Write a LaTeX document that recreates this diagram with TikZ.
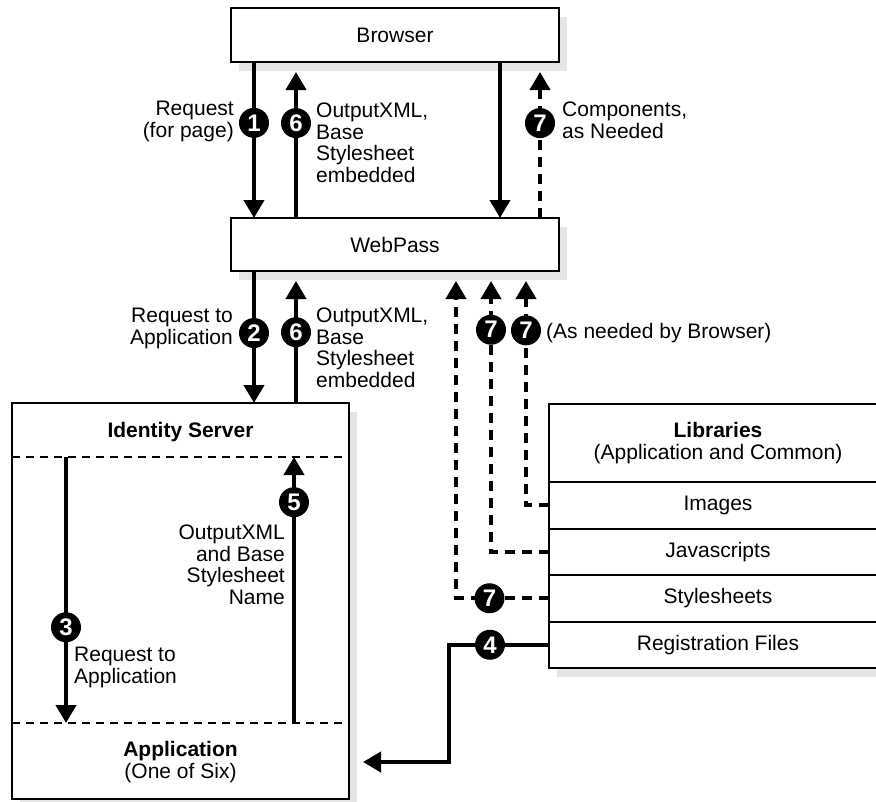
\documentclass[tikz,border=0pt]{standalone}
\usepackage{fontspec}
\setmainfont{Liberation Sans}
\usetikzlibrary{arrows.meta,positioning,shadows}

\begin{document}
\begin{tikzpicture}[x=1pt, y=-1pt,
	font=\fontsize{21}{21.5}\selectfont,
	box/.style={draw, line width=2pt, fill=white, outer sep=0pt, inner sep=0pt, align=center,
		drop shadow={shadow xshift=8pt, shadow yshift=-9pt, fill=black!10, opacity=1}},
	libbox/.style={box, minimum width=338pt, minimum height=46.5pt},
	flow/.style={line width=4pt, -{Triangle[width=20pt,length=18pt]}},
	fetch/.style={flow, dash pattern=on 10pt off 7pt},
	tier/.style={line width=1.5pt, dash pattern=on 8pt off 6pt},
	badge/.style={circle, fill=black, text=white, font=\fontsize{24}{24}\selectfont\bfseries, minimum size=30pt, inner sep=0pt},
	note/.style={inner sep=0pt}]
	\useasboundingbox (0,0) rectangle (876,801);
	\clip (0,0) rectangle (876,801);

	\node[box, minimum width=328pt, minimum height=54pt] (browser) at (395,35) {Browser};
	\node[box, minimum width=328pt, minimum height=53pt] (webpass) at (395,244.5) {WebPass};
	\node[box, minimum width=337pt, minimum height=396pt] (ids) at (180.5,601) {};
	\node[box, minimum width=338pt, minimum height=78pt, anchor=north west] (libs) at (549,404) {\textbf{Libraries}\\(Application and Common)};
	\node[libbox, below=0pt of libs] (img) {Images};
	\node[libbox, below=0pt of img] (js) {Javascripts};
	\node[libbox, below=0pt of js] (css) {Stylesheets};
	\node[libbox, below=0pt of css] (reg) {Registration Files};

	\coordinate (tierA) at ([yshift=-54pt]ids.north west);
	\coordinate (tierB) at ([yshift=76pt]ids.south west);
	\draw[tier] (tierA) -- (tierA -| ids.east);
	\draw[tier] (tierB) -- (tierB -| ids.east);
	\node (idstitle) at (180.5,432) {\textbf{Identity Server}};
	\node[align=center] (app) at (180.5,762) {\textbf{Application}\\(One of Six)};

	\draw[flow] ([xshift=23pt]browser.south west) -- node[badge,pos=.39] {1} ([xshift=23pt]webpass.north west);
	\draw[flow] ([xshift=65pt]webpass.north west) -- node[badge,pos=.65] {6} ([xshift=65pt,yshift=-10pt]browser.south west);
	\draw[flow] ([xshift=269pt]browser.south west) -- ([xshift=269pt]webpass.north west);
	\draw[fetch] ([xshift=309pt]webpass.north west) -- node[badge,pos=.65] {7} ([xshift=309pt,yshift=-10pt]browser.south west);

	\draw[flow] ([xshift=23pt]webpass.south west) -- node[badge,pos=.47] {2} ([xshift=242pt]ids.north west);
	\draw[flow] ([xshift=284pt]ids.north west) -- node[badge,pos=.58] {6} ([xshift=65pt,yshift=-10pt]webpass.south west);
	\draw[flow] ([xshift=54pt]tierA) -- node[badge,pos=.64] {3} ([xshift=54pt]tierB);
	\draw[flow] ([xshift=282pt]tierB) -- node[badge,pos=.83] {5} ([xshift=282pt]tierA);
	\draw[flow] (reg.west) -- node[badge,pos=.59] {4} ++(-100,0) |- ([xshift=14pt,yshift=-161pt]ids.east);

	\draw[fetch] (img.west) -| node[badge,pos=.89] {7} ([xshift=295pt,yshift=-10pt]webpass.south west);
	\draw[fetch] (js.west) -| node[badge,pos=.91] {7} ([xshift=260pt,yshift=-10pt]webpass.south west);
	\draw[fetch] (css.west) -| node[badge,pos=.32] {7} ([xshift=225pt,yshift=-10pt]webpass.south west);

	\node[note, anchor=north east, align=right] (lblreq) at (234,101) {Request\\(for page)};
	\node[note, anchor=north west, align=left] (lblout) at (316,103) {OutputXML,\\Base\\Stylesheet\\embedded};
	\node[note, anchor=north west, align=left] (lblcomp) at (562,102) {Components,\\as Needed};
	\node[note, anchor=north east, align=right] (lblapp) at (233,308) {Request to\\Application};
	\node[note, anchor=north west, align=left] (lblout2) at (316,308) {OutputXML,\\Base\\Stylesheet\\embedded};
	\node[note, anchor=north east, align=right] (lblname) at (285,525) {OutputXML\\and Base\\Stylesheet\\Name};
	\node[note, anchor=north west, align=left] (lblreq2) at (74,647) {Request to\\Application};
	\node[note, anchor=west] (lblneed) at (546,333) {(As needed by Browser)};
\end{tikzpicture}
\end{document}
